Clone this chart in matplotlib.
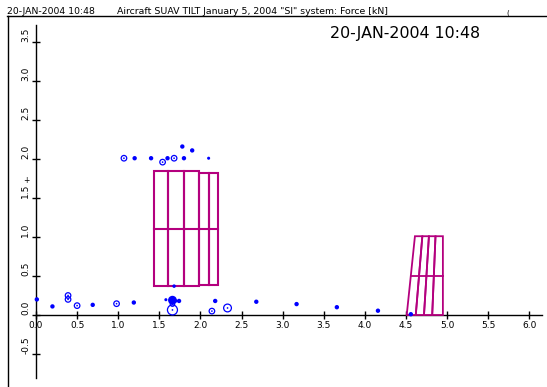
import matplotlib
matplotlib.use("Agg")
import matplotlib.pyplot as plt
from matplotlib.lines import Line2D
from matplotlib.patches import Polygon
import numpy as np

# ---------------- data ----------------
x_ticks = [0.0, 0.5, 1.0, 1.5, 2.0, 2.5, 3.0, 3.5, 4.0, 4.5, 5.0, 5.5, 6.0]
x_tick_labels = ["0.0", "0.5", "1.0", "1.5", "2.0", "2.5", "3.0", "3.5", "4.0", "4.5", "5.0", "5.5", "6.0"]
y_ticks = [-0.5, 0.0, 0.5, 1.0, 1.5, 2.0, 2.5, 3.0, 3.5]
y_tick_labels = ["-0.5", "0.0", "0.5", "1.0", "1.5", "2.0", "2.5", "3.0", "3.5"]

# filled dots: x, y, relative size
dot_x = [0.01, 0.20, 0.69, 1.19, 1.58, 1.69, 1.74, 2.18, 2.68, 3.17, 3.66, 4.16, 4.56,
         1.20, 1.40, 1.60, 1.78, 1.80, 1.90, 2.10, 1.68, 1.66]
dot_y = [0.20, 0.11, 0.13, 0.16, 0.196, 0.18, 0.18, 0.18, 0.17, 0.14, 0.10, 0.055, 0.01,
         2.01, 2.01, 2.01, 2.16, 2.01, 2.11, 2.01, 0.37, 0.19]
dot_w = [1.0, 1.0, 1.0, 1.0, 0.7, 1.0, 1.0, 1.0, 1.0, 1.0, 1.0, 1.0, 1.0,
         1.0, 1.0, 1.0, 1.0, 1.0, 1.0, 0.7, 0.8, 2.0]

# ringed points (circle with centre dot): x, y, relative size
ring_x = [0.39, 0.39, 0.50, 0.98, 1.66, 1.66, 2.14, 2.33, 1.07, 1.54, 1.68]
ring_y = [0.25, 0.20, 0.12, 0.145, 0.14, 0.065, 0.05, 0.09, 2.01, 1.96, 2.01]
ring_w = [1.0, 1.0, 1.0, 1.0, 0.8, 1.8, 1.0, 1.4, 1.0, 1.0, 1.0]

# first group of boxes (left, right, bottom, middle, top)
box_left = [1.43, 1.61, 1.80, 1.98, 2.10]
box_right = [1.61, 1.80, 1.98, 2.10, 2.22]
box_bottom = [0.376, 0.376, 0.376, 0.39, 0.39]
box_mid = [1.10, 1.10, 1.10, 1.10, 1.10]
box_top = [1.85, 1.85, 1.85, 1.82, 1.82]

# second group: slanted strips (edges at bottom and at top)
strip_x_bottom = [4.51, 4.62, 4.72, 4.82, 4.95]
strip_x_top = [4.61, 4.70, 4.78, 4.86, 4.95]
strip_bottom = 0.0
strip_mid = 0.50
strip_top = 1.01

BLUE = "#0000ff"
MAG = "#b4007e"

# ---------------- figure ----------------
W, H = 547, 387
fig = plt.figure(figsize=(W / 100, H / 100), dpi=100)
ax = fig.add_axes([0, 0, 1, 1])
ax.set_facecolor("white")

# pixel mapping: x=0 at px 36, 82.2 px/unit; y=0 at px 315 from top, 78 px/unit
px_x0, sx = 36.0, 82.2
px_y0, sy = 315.0, 78.0
ax.set_xlim(-px_x0 / sx, (W - px_x0) / sx)
ax.set_ylim(-(H - px_y0) / sy, px_y0 / sy)

for s in ["top", "right"]:
    ax.spines[s].set_visible(False)
ax.spines["left"].set_position(("data", 0))
ax.spines["bottom"].set_position(("data", 0))
ax.spines["left"].set_bounds(-0.81, 3.72)
ax.spines["bottom"].set_bounds(0, 6.16)
for s in ["left", "bottom"]:
    ax.spines[s].set_linewidth(1.0)
    ax.spines[s].set_color("black")

ax.set_xticks(x_ticks)
ax.set_xticklabels(x_tick_labels)
ax.set_yticks(y_ticks)
ax.set_yticklabels(y_tick_labels)
ax.tick_params(axis="both", direction="inout", length=6, width=1.0, labelsize=6.5, colors="black")
ax.tick_params(axis="x", pad=1)
ax.tick_params(axis="y", pad=1)
for lab in ax.get_yticklabels():
    lab.set_rotation(90)
    lab.set_va("bottom")
    lab.set_ha("right")

# boxes
for l, r, b, m, t in zip(box_left, box_right, box_bottom, box_mid, box_top):
    ax.add_patch(plt.Rectangle((l, b), r - l, t - b, fill=False, edgecolor=MAG, lw=1.5, zorder=3))
    ax.plot([l, r], [m, m], color=MAG, lw=1.5, zorder=3)

# slanted strips
for i in range(len(strip_x_bottom) - 1):
    poly = [(strip_x_bottom[i], strip_bottom), (strip_x_bottom[i + 1], strip_bottom),
            (strip_x_top[i + 1], strip_top), (strip_x_top[i], strip_top)]
    ax.add_patch(Polygon(poly, closed=True, fill=False, edgecolor=MAG, lw=1.3, zorder=3))
    f = (strip_mid - strip_bottom) / (strip_top - strip_bottom)
    xa = strip_x_bottom[i] + f * (strip_x_top[i] - strip_x_bottom[i])
    xb = strip_x_bottom[i + 1] + f * (strip_x_top[i + 1] - strip_x_bottom[i + 1])
    ax.plot([xa, xb], [strip_mid, strip_mid], color=MAG, lw=1.3, zorder=3)

# points
ax.scatter(dot_x, dot_y, s=[10 * w * w for w in dot_w], color=BLUE, edgecolors="none", zorder=4)
ax.scatter(ring_x, ring_y, s=[16 * w * w for w in ring_w], facecolors="none",
           edgecolors=BLUE, linewidths=0.9, zorder=4)
ax.scatter(ring_x, ring_y, s=1.5, color=BLUE, edgecolors="none", zorder=4)

# small plus near y axis
ax.text(-0.12, 1.73, "+", fontsize=5.5, ha="center", va="center", color="black")

# ---------------- header / frame ----------------
fig.add_artist(Line2D([7 / W, 1.0], [1 - 16 / H, 1 - 16 / H], color="black", lw=1.0))
fig.add_artist(Line2D([7.5 / W, 7.5 / W], [1 - 16 / H, 0.0], color="black", lw=1.0))
fig.text(7 / W, 1 - 13.5 / H, "20-JAN-2004 10:48", fontsize=6.7, ha="left", va="baseline",
         family="DejaVu Sans")
fig.text(117 / W, 1 - 13.5 / H, 'Aircraft SUAV TILT January 5, 2004 "SI" system: Force [kN]',
         fontsize=6.75, ha="left", va="baseline", family="DejaVu Sans")
fig.text(506 / W, 1 - 15 / H, "(", fontsize=5, ha="left", va="baseline")
fig.text(330 / W, 1 - 38 / H, "20-JAN-2004 10:48", fontsize=11.4,
         ha="left", va="baseline", family="DejaVu Sans")

fig.savefig("out.png", dpi=100, facecolor="white")
